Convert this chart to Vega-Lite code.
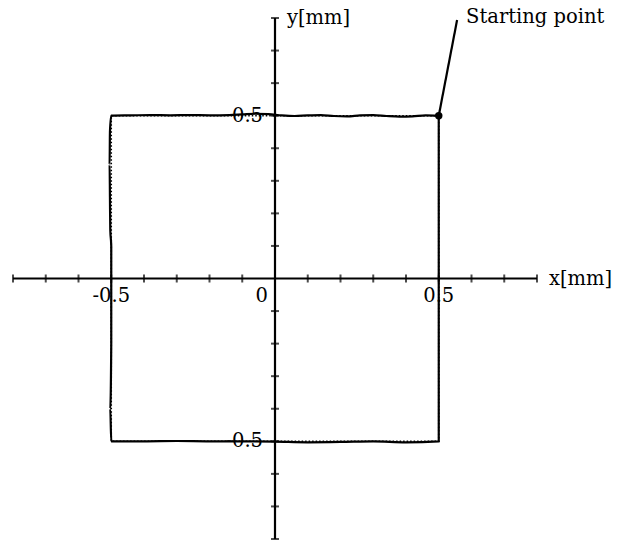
{
  "$schema": "https://vega.github.io/schema/vega-lite/v6.json",
  "width": 524,
  "height": 521,
  "autosize": "none",
  "padding": {"left": 13, "top": 18, "right": 81, "bottom": 4},
  "background": "white",
  "config": {"view": {"stroke": null}},
  "datasets": {
    "measured": [
      {"i": 0, "x": 0.5, "y": 0.5},
      {"i": 1, "x": 0.46, "y": 0.501},
      {"i": 2, "x": 0.42, "y": 0.498},
      {"i": 3, "x": 0.38, "y": 0.497},
      {"i": 4, "x": 0.34, "y": 0.499},
      {"i": 5, "x": 0.3, "y": 0.502},
      {"i": 6, "x": 0.26, "y": 0.501},
      {"i": 7, "x": 0.22, "y": 0.498},
      {"i": 8, "x": 0.18, "y": 0.499},
      {"i": 9, "x": 0.14, "y": 0.502},
      {"i": 10, "x": 0.1, "y": 0.501},
      {"i": 11, "x": 0.06, "y": 0.499},
      {"i": 12, "x": 0.02, "y": 0.501},
      {"i": 13, "x": -0.02, "y": 0.505},
      {"i": 14, "x": -0.06, "y": 0.506},
      {"i": 15, "x": -0.1, "y": 0.504},
      {"i": 16, "x": -0.14, "y": 0.502},
      {"i": 17, "x": -0.2, "y": 0.501},
      {"i": 18, "x": -0.26, "y": 0.502},
      {"i": 19, "x": -0.32, "y": 0.501},
      {"i": 20, "x": -0.38, "y": 0.502},
      {"i": 21, "x": -0.44, "y": 0.501},
      {"i": 22, "x": -0.5, "y": 0.5},
      {"i": 23, "x": -0.504, "y": 0.45},
      {"i": 24, "x": -0.505, "y": 0.35},
      {"i": 25, "x": -0.504, "y": 0.25},
      {"i": 26, "x": -0.503, "y": 0.15},
      {"i": 27, "x": -0.5, "y": 0.1},
      {"i": 28, "x": -0.5, "y": -0.2},
      {"i": 29, "x": -0.503, "y": -0.4},
      {"i": 30, "x": -0.5, "y": -0.5},
      {"i": 31, "x": -0.4, "y": -0.5},
      {"i": 32, "x": -0.3, "y": -0.499},
      {"i": 33, "x": -0.2, "y": -0.5},
      {"i": 34, "x": -0.1, "y": -0.5},
      {"i": 35, "x": 0.0, "y": -0.501},
      {"i": 36, "x": 0.1, "y": -0.503},
      {"i": 37, "x": 0.2, "y": -0.502},
      {"i": 38, "x": 0.3, "y": -0.5},
      {"i": 39, "x": 0.4, "y": -0.503},
      {"i": 40, "x": 0.5, "y": -0.5},
      {"i": 41, "x": 0.5, "y": 0.0},
      {"i": 42, "x": 0.5, "y": 0.5}
    ],
    "reference": [
      {"i": 0, "x": 0.5, "y": 0.5},
      {"i": 1, "x": -0.5, "y": 0.5},
      {"i": 2, "x": -0.5, "y": -0.5},
      {"i": 3, "x": 0.5, "y": -0.5},
      {"i": 4, "x": 0.5, "y": 0.5}
    ],
    "axes": [
      {"x": -0.8, "y": 0, "x2": 0.8, "y2": 0},
      {"x": 0, "y": -0.8, "x2": 0, "y2": 0.8}
    ],
    "ticks": [
      {"v": -0.8}, {"v": -0.7}, {"v": -0.6}, {"v": -0.5}, {"v": -0.4},
      {"v": -0.3}, {"v": -0.2}, {"v": -0.1}, {"v": 0.1}, {"v": 0.2},
      {"v": 0.3}, {"v": 0.4}, {"v": 0.5}, {"v": 0.6}, {"v": 0.7}, {"v": 0.8}
    ],
    "start": [
      {"x": 0.5, "y": 0.5, "x2": 0.556, "y2": 0.794, "label": "Starting point"}
    ]
  },
  "encoding": {
    "x": {"type": "quantitative", "scale": {"domain": [-0.8, 0.8], "nice": false, "zero": false}, "axis": null},
    "y": {"type": "quantitative", "scale": {"domain": [-0.8, 0.8], "nice": false, "zero": false}, "axis": null}
  },
  "layer": [
    {
      "data": {"name": "axes"},
      "mark": {"type": "rule", "color": "black", "strokeWidth": 2.2},
      "encoding": {
        "x": {"field": "x", "type": "quantitative"},
        "y": {"field": "y", "type": "quantitative"},
        "x2": {"field": "x2"},
        "y2": {"field": "y2"}
      }
    },
    {
      "data": {"name": "ticks"},
      "mark": {"type": "tick", "orient": "vertical", "color": "black", "size": 8, "thickness": 2},
      "encoding": {
        "x": {"field": "v", "type": "quantitative"},
        "y": {"datum": 0, "type": "quantitative"}
      }
    },
    {
      "data": {"name": "ticks"},
      "mark": {"type": "tick", "orient": "horizontal", "color": "black", "size": 8, "thickness": 2},
      "encoding": {
        "y": {"field": "v", "type": "quantitative"},
        "x": {"datum": 0, "type": "quantitative"}
      }
    },
    {
      "data": {"name": "reference"},
      "mark": {"type": "line", "color": "black", "strokeWidth": 1.6, "strokeDash": [1.5, 2]},
      "encoding": {
        "x": {"field": "x", "type": "quantitative"},
        "y": {"field": "y", "type": "quantitative"},
        "order": {"field": "i"}
      }
    },
    {
      "data": {"name": "measured"},
      "mark": {"type": "line", "color": "black", "strokeWidth": 2.2, "interpolate": "monotone"},
      "encoding": {
        "x": {"field": "x", "type": "quantitative"},
        "y": {"field": "y", "type": "quantitative"},
        "order": {"field": "i"}
      }
    },
    {
      "data": {"name": "start"},
      "mark": {"type": "rule", "color": "black", "strokeWidth": 2.2},
      "encoding": {
        "x": {"field": "x", "type": "quantitative"},
        "y": {"field": "y", "type": "quantitative"},
        "x2": {"field": "x2"},
        "y2": {"field": "y2"}
      }
    },
    {
      "data": {"name": "start"},
      "mark": {"type": "point", "filled": true, "color": "black", "size": 55, "opacity": 1},
      "encoding": {
        "x": {"field": "x", "type": "quantitative"},
        "y": {"field": "y", "type": "quantitative"}
      }
    },
    {
      "data": {"name": "start"},
      "mark": {"type": "text", "align": "left", "baseline": "middle", "dx": 9, "dy": -3, "font": "DejaVu Serif", "fontSize": 19.5, "color": "black"},
      "encoding": {
        "x": {"field": "x2", "type": "quantitative"},
        "y": {"field": "y2", "type": "quantitative"},
        "text": {"field": "label"}
      }
    },
    {
      "data": {"values": [{"x": 0.8, "y": 0, "t": "x[mm]"}, {"x": 0, "y": 0.8, "t": "y[mm]"}]},
      "mark": {"type": "text", "align": "left", "baseline": "middle", "dx": 12, "font": "DejaVu Serif", "fontSize": 19.5, "color": "black"},
      "encoding": {
        "x": {"field": "x", "type": "quantitative"},
        "y": {"field": "y", "type": "quantitative"},
        "text": {"field": "t"}
      }
    },
    {
      "data": {"values": [{"x": -0.5, "y": 0, "t": "-0.5"}, {"x": 0.5, "y": 0, "t": "0.5"}]},
      "mark": {"type": "text", "align": "center", "baseline": "top", "dy": 8, "font": "DejaVu Serif", "fontSize": 19.5, "color": "black"},
      "encoding": {
        "x": {"field": "x", "type": "quantitative"},
        "y": {"field": "y", "type": "quantitative"},
        "text": {"field": "t"}
      }
    },
    {
      "data": {"values": [{"x": 0, "y": 0, "t": "0"}]},
      "mark": {"type": "text", "align": "right", "baseline": "top", "dx": -7, "dy": 8, "font": "DejaVu Serif", "fontSize": 19.5, "color": "black"},
      "encoding": {
        "x": {"field": "x", "type": "quantitative"},
        "y": {"field": "y", "type": "quantitative"},
        "text": {"field": "t"}
      }
    },
    {
      "data": {"values": [{"x": 0, "y": 0.5, "t": "0.5"}, {"x": 0, "y": -0.5, "t": "-0.5"}]},
      "mark": {"type": "text", "align": "right", "baseline": "middle", "dx": -12, "font": "DejaVu Serif", "fontSize": 19.5, "color": "black"},
      "encoding": {
        "x": {"field": "x", "type": "quantitative"},
        "y": {"field": "y", "type": "quantitative"},
        "text": {"field": "t"}
      }
    }
  ]
}
